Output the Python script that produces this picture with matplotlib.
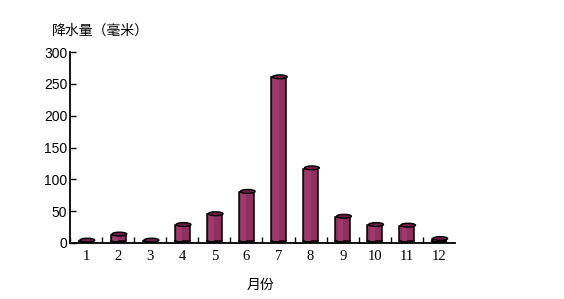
import matplotlib.pyplot as plt
from matplotlib.patches import Ellipse, Rectangle

plt.rcParams['font.family'] = ['Noto Sans CJK SC', 'DejaVu Sans']

months = ['1', '2', '3', '4', '5', '6', '7', '8', '9', '10', '11', '12']
rain = [3, 13, 3, 28, 45, 80, 260, 117, 41, 28, 27, 6]

fig = plt.figure(figsize=(5.64, 2.99), dpi=100)
ax = fig.add_axes([70 / 564, 1 - 243 / 299, 385 / 564, 191 / 299])

w = 0.46
base = 3
side = '#8e3060'
top_c = '#6a1f46'
for i, v in enumerate(rain):
    x = i + 1
    h = max(v - base, 0.5)
    ax.add_patch(Rectangle((x - w / 2, base), w, h, facecolor=side,
                           edgecolor='black', lw=1.1, zorder=2))
    # lighter strip to fake a shaded cylinder
    ax.add_patch(Rectangle((x - w / 2 + 0.07, base + 0.5), 0.16, max(h - 1, 0),
                           facecolor='#9c3b6b', edgecolor='none', zorder=2.5))
    ax.add_patch(Ellipse((x, base), w, 3, facecolor=side, edgecolor='black',
                         lw=1.1, zorder=1.5))
    ax.add_patch(Ellipse((x + 0.04, base + h + 1), w, 6, facecolor=top_c,
                         edgecolor='black', lw=1.0, zorder=3))

ax.set_xlim(0.5, 12.5)
ax.set_ylim(0, 300)
ax.set_yticks(range(0, 301, 50))
ax.tick_params(axis='y', direction='in', length=4, width=1, labelsize=10, pad=2)
ax.set_xticks([i + 0.5 for i in range(12)])
ax.set_xticklabels([])
ax.set_xticks(range(1, 13), minor=True)
ax.set_xticklabels(months, minor=True, family='Liberation Serif', fontsize=10.5)
ax.tick_params(axis='x', which='major', direction='in', length=4, width=1)
ax.tick_params(axis='x', which='minor', length=0, pad=5)
for lbl in ax.get_yticklabels():
    lbl.set_family('Liberation Sans')

for s in ['top', 'right']:
    ax.spines[s].set_visible(False)
for s in ['left', 'bottom']:
    ax.spines[s].set_linewidth(1.3)

fig.text(100 / 564, 1 - 31 / 299, '降水量（毫米）', ha='center', va='center', fontsize=10)
fig.text(260 / 564, 1 - 285 / 299, '月份', ha='center', va='center', fontsize=10)

fig.savefig('out.png', dpi=100)
